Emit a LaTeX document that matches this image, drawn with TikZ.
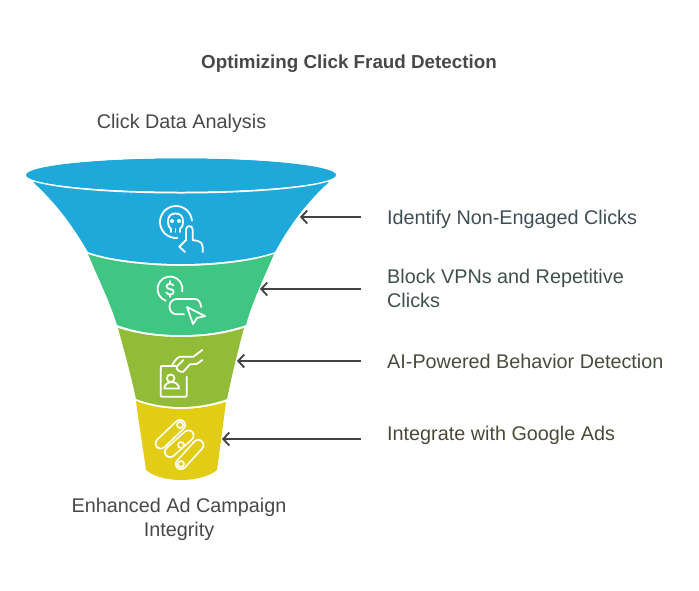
\documentclass[tikz,border=0pt]{standalone}
\usepackage{fontspec}
\setmainfont{Liberation Sans}
\usetikzlibrary{arrows.meta, positioning, calc}
\definecolor{funnelblue}{RGB}{31, 169, 219}
\definecolor{funnelgreen}{RGB}{62, 198, 130}
\definecolor{funnelolive}{RGB}{146, 188, 56}
\definecolor{funnelyellow}{RGB}{226, 204, 20}
\definecolor{titlegray}{RGB}{72, 72, 72}
\definecolor{arrowgray}{RGB}{66, 66, 66}
\definecolor{textblue}{RGB}{63, 78, 85}
\definecolor{textgreen}{RGB}{63, 80, 74}
\definecolor{textolive}{RGB}{70, 76, 60}
\definecolor{textyellow}{RGB}{75, 74, 56}
\tikzset{
    icon/.style={draw=white, line width=1.8pt, line cap=round, line join=round},
    pointer/.style={arrowgray, line width=1.8pt, -{Straight Barb[length=6pt, width=13pt]}},
    titlelabel/.style={font=\fontsize{18.8}{24}\selectfont\bfseries, text=titlegray, anchor=base},
    centerlabel/.style={font=\fontsize{19.8}{24}\selectfont, text=titlegray, align=center},
    sidelabel/.style={font=\fontsize{19.8}{24}\selectfont, anchor=base west, align=left, inner sep=0pt}
}
\begin{document}
\begin{tikzpicture}[x=1pt, y=-1pt]
    \useasboundingbox (0,0) rectangle (699,590);

    % funnel
    \fill[funnelblue] (33,182) .. controls (58,205) and (74,228) .. (88,252)
        .. controls (110,260) and (150,264) .. (181,264)
        .. controls (212,264) and (252,260) .. (275,252)
        .. controls (288,228) and (304,205) .. (329,182) -- cycle;
    \draw[white, line width=2pt, fill=funnelblue] (181,175) ellipse [x radius=155, y radius=17.5];
    \fill[funnelblue] (181,175) ellipse [x radius=155, y radius=16.5];
    \fill[funnelgreen] (88,254) .. controls (110,262) and (150,266) .. (181,266)
        .. controls (212,266) and (252,262) .. (274,254)
        .. controls (264,278) and (252,302) .. (246,325)
        .. controls (225,332) and (205,335) .. (181,335)
        .. controls (157,335) and (137,332) .. (117,325)
        .. controls (110,302) and (98,278) .. (88,254) -- cycle;
    \fill[funnelolive] (118,328) .. controls (137,334) and (157,337) .. (181,337)
        .. controls (205,337) and (225,334) .. (244,328)
        .. controls (238,350) and (232,375) .. (227,399)
        .. controls (213,404) and (197,407) .. (181,407)
        .. controls (165,407) and (149,404) .. (136,399)
        .. controls (131,375) and (124,350) .. (118,328) -- cycle;
    \fill[funnelyellow] (136,401) .. controls (149,406) and (165,409) .. (181,409)
        .. controls (197,409) and (213,406) .. (226,402)
        .. controls (223,425) and (220,448) .. (217,470)
        .. controls (210,476) and (196,480) .. (181,480)
        .. controls (166,480) and (153,476) .. (146,470)
        .. controls (143,448) and (139,425) .. (136,401) -- cycle;

    % skull and finger
    \draw[icon] ([shift={(5:16pt)}]176,222) arc [start angle=5, end angle=275, radius=16pt];
    \draw[icon] (171,232) -- (171,229) .. controls (169,228) and (168,225) .. (168,221)
        .. controls (168,216) and (171,213.5) .. (175.5,213.5)
        .. controls (180,213.5) and (183,216) .. (183,221)
        .. controls (183,225) and (182,228) .. (180,229) -- (180,232);
    \draw[icon] (175.5,229) -- (175.5,232);
    \fill[white] (172,221) circle [radius=2];
    \fill[white] (179,221) circle [radius=2];
    \draw[icon] (185,252) -- (179.3,246.7) -- (186,240) -- (186,229.5)
        .. controls (186,225) and (192.7,225) .. (192.7,229.5) -- (192.7,240)
        -- (198,241) .. controls (201,241.5) and (202.7,244) .. (202.7,247) -- (202.7,252);

    % dollar and cursor
    \draw[icon] ([shift={(-12:12.5pt)}]170,289) arc [start angle=-12, end angle=250, radius=12.5pt];
    \draw[icon] (173.5,285.5) .. controls (172.5,283.5) and (166.5,283) .. (166.5,286.5)
        .. controls (166.5,290) and (173.7,288) .. (173.7,292)
        .. controls (173.7,295.5) and (167.5,295) .. (166.3,292.5);
    \draw[icon] (170,281) -- (170,283.5);
    \draw[icon] (170,294.5) -- (170,297);
    \draw[icon] (201,307) .. controls (201,302) and (198,299) .. (195,299) -- (177,299)
        .. controls (167,299) and (167,314.3) .. (177,314.3) -- (184,314.3);
    \draw[icon] (187,307) -- (205,316) -- (197,318) -- (193,324) -- cycle;

    % card and hand
    \draw[icon, rounded corners=1pt] (175.7,366) -- (160.7,366) -- (160.7,396.7) -- (186.7,396.7) -- (186.7,376.7);
    \draw[icon] (170.7,378.3) circle [radius=3.8];
    \draw[icon] (164.3,388.5) -- (179,388.5) .. controls (179,380) and (164.3,380) .. (164.3,388.5) -- cycle;
    \draw[icon] (202.3,350) -- (193.3,356.7) -- (180,356.7) .. controls (177,357.5) and (174.5,361) .. (172.3,365);
    \draw[icon] (202.3,360) -- (196.7,364) -- (190,364.3) -- (183.3,371.7)
        .. controls (180,373) and (175.5,369) .. (176.7,366.7) -- (183.3,360);

    % linked bars
    \foreach \ax/\ay/\bx/\by in {180/425/160.7/443.5, 188.5/435.5/170/452, 198.3/445/181/464} {
        \draw[white, line width=12pt, line cap=round] (\ax,\ay) -- (\bx,\by);
        \draw[funnelyellow, line width=8.6pt, line cap=round] (\ax,\ay) -- (\bx,\by);
    }
    \foreach \cx/\cy in {180/425, 181/445, 181/464} {
        \draw[white, line width=1.7pt] (\cx,\cy) circle [radius=3];
    }

    % texts
    \node[titlelabel] (title) at (349,68) {Optimizing Click Fraud Detection};
    \node[centerlabel, anchor=base] (toplabel) at (181.5,128) {Click Data Analysis};
    \node[centerlabel] (bottomlabel) at (179,519) {Enhanced Ad Campaign\\Integrity};
    \node[sidelabel, text=textblue] (identify) at (387,224) {Identify Non-Engaged Clicks};
    \node[sidelabel, text=textgreen, anchor=west] (block) at (387,288.5) {Block VPNs and Repetitive\\Clicks};
    \node[sidelabel, text=textolive] (behavior) at (387,368) {AI-Powered Behavior Detection};
    \node[sidelabel, text=textyellow] (integrate) at (387,440) {Integrate with Google Ads};

    % pointers
    \foreach \name/\tipx/\liney in {identify/300/217, block/260/289, behavior/237/361, integrate/222/439} {
        \coordinate (\name tail) at (361,\liney);
        \coordinate (\name tip) at (\tipx,\liney);
        \draw[pointer] (\name tail) -- (\name tip);
    }
\end{tikzpicture}
\end{document}
